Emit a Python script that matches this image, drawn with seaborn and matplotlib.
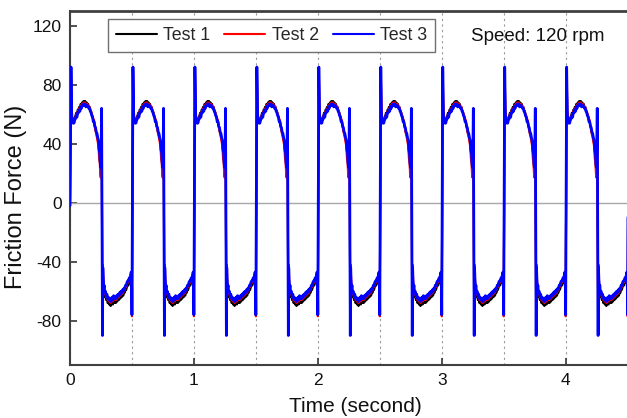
import numpy as np
import pandas as pd
import matplotlib
matplotlib.use("Agg")
import matplotlib.pyplot as plt
from matplotlib.ticker import MultipleLocator
import seaborn as sns

# one revolution cycle (0.5 s at 120 rpm)
period = 0.5
n_cycles = 10
phase = [0.000, 0.008, 0.010, 0.013, 0.016, 0.020, 0.024, 0.028, 0.032, 0.038,
         0.044, 0.050, 0.056, 0.062, 0.068, 0.074, 0.080, 0.086, 0.092, 0.098,
         0.104, 0.110, 0.116, 0.122, 0.128, 0.134, 0.140, 0.146, 0.152, 0.158,
         0.164, 0.170, 0.176, 0.182, 0.188, 0.194, 0.200, 0.206, 0.212, 0.218,
         0.224, 0.230, 0.235, 0.240, 0.244, 0.248, 0.252, 0.255,
         0.262, 0.265, 0.268, 0.272, 0.276, 0.280, 0.286, 0.292, 0.298, 0.304,
         0.310, 0.316, 0.322, 0.328, 0.334, 0.340, 0.346, 0.352, 0.358, 0.364,
         0.370, 0.376, 0.382, 0.388, 0.394, 0.400, 0.406, 0.412, 0.418, 0.424,
         0.430, 0.436, 0.442, 0.448, 0.454, 0.460, 0.466, 0.472, 0.478, 0.484,
         0.490, 0.494, 0.498]

test1 = [-75, 90, 79, 63, 58, 57, 56, 56, 56, 58,
         59, 61, 60, 63, 63, 65, 64, 67, 66, 68,
         68, 69, 68, 69, 67, 68, 67, 67, 65, 65,
         63, 62, 60, 58, 56, 55, 52, 50, 47, 46,
         43, 40, 34, 31, 25, 22, 38, 62,
         -89, -46, -55, -61, -59, -64, -63, -66, -65, -68,
         -67, -69, -68, -70, -69, -67, -69, -66, -68, -67,
         -68, -66, -67, -65, -66, -64, -65, -63, -64, -62,
         -63, -61, -61, -59, -59, -57, -56, -56, -54, -54,
         -52, -50, -62]
test2 = [-77, 91, 81, 64, 58, 56, 55, 56, 55, 57,
         58, 60, 59, 62, 62, 64, 63, 66, 65, 67,
         67, 68, 67, 68, 66, 67, 67, 66, 65, 65,
         63, 62, 60, 59, 57, 56, 51, 49, 46, 44,
         41, 38, 30, 27, 20, 17, 36, 63,
         -89, -42, -50, -57, -58, -62, -61, -64, -63, -66,
         -65, -67, -66, -68, -67, -65, -67, -64, -66, -65,
         -66, -64, -65, -63, -64, -62, -63, -61, -62, -60,
         -61, -59, -59, -57, -57, -55, -54, -54, -52, -52,
         -50, -47, -58]
test3 = [-76, 92, 80, 62, 57, 56, 54, 55, 54, 56,
         57, 59, 58, 61, 61, 63, 62, 65, 64, 66,
         66, 67, 66, 67, 65, 66, 66, 65, 64, 64,
         62, 61, 59, 58, 55, 55, 52, 51, 48, 47,
         44, 42, 36, 34, 27, 24, 40, 64,
         -90, -44, -52, -58, -56, -61, -60, -63, -62, -65,
         -64, -66, -65, -67, -66, -64, -66, -63, -65, -64,
         -65, -63, -64, -62, -63, -61, -62, -60, -61, -59,
         -60, -58, -58, -56, -56, -54, -53, -53, -51, -51,
         -49, -47, -58]
start_force = [0, 1, -2]

tests = ["Test 1", "Test 2", "Test 3"]
colors = ["black", "red", "blue"]
widths = [1.5, 1.5, 2.0]

frames = []
for name, cyc, f0 in zip(tests, [test1, test2, test3], start_force):
    t = np.concatenate([k * period + np.array(phase) for k in range(n_cycles)])
    f = np.tile(np.array(cyc, dtype=float), n_cycles)
    f[0] = f0
    frames.append(pd.DataFrame({"Time": t, "Force": f, "Test": name}))
df = pd.concat(frames, ignore_index=True)

sns.set_theme(style="white")
plt.rcParams['font.family'] = ['Liberation Sans', 'DejaVu Sans']
plt.rcParams['axes.unicode_minus'] = False

fig = plt.figure(figsize=(6.27, 4.18), dpi=100)
ax = fig.add_axes([70 / 627, 53 / 418, 570 / 627, 354 / 418])

ax.axhline(0, color="#a8a8a8", lw=1, zorder=1)
for name, c, w in zip(tests, colors, widths):
    sns.lineplot(data=df[df["Test"] == name], x="Time", y="Force", color=c, lw=w,
                 label=name, sort=False, estimator=None, ax=ax, zorder=3)

ax.set_xlim(0, 4.6)
ax.set_ylim(-110, 130)
ax.xaxis.set_major_locator(MultipleLocator(1))
ax.xaxis.set_minor_locator(MultipleLocator(0.5))
ax.yaxis.set_major_locator(MultipleLocator(40))
ax.grid(which="both", axis="x", linestyle=(0, (2, 3)), color="#999999", lw=0.8)
ax.grid(False, axis="y")
ax.set_axisbelow(True)
ax.tick_params(which="major", direction="in", length=5, width=1.2, color="#333333",
               labelsize=12.5, labelcolor="#111111", pad=6, left=True, bottom=True)
ax.tick_params(which="minor", length=0)

for s in ax.spines.values():
    s.set_color("#404040")
    s.set_linewidth(1.5)
ax.spines["top"].set_linewidth(2)

ax.set_xlabel("Time (second)", fontsize=15, labelpad=6, color="#111111")
ax.set_ylabel("Friction Force (N)", fontsize=17, color="#111111")
ax.yaxis.set_label_coords(-0.0754, 0.475)

ax.text(0.7035, 0.9266, "Speed: 120 rpm", transform=ax.transAxes, ha="left", va="center",
        fontsize=13.5, color="#111111")

leg = ax.legend(loc="upper left", bbox_to_anchor=(0.0667, 0.977), ncol=3, frameon=True,
                fancybox=False, edgecolor="#707070", framealpha=1, handlelength=2.3,
                handletextpad=0.35, columnspacing=0.8, fontsize=12.8, borderpad=0.45,
                borderaxespad=0)
leg.get_frame().set_linewidth(1)
for line in leg.get_lines():
    line.set_linewidth(1.5)

fig.savefig("out.png", dpi=100)
